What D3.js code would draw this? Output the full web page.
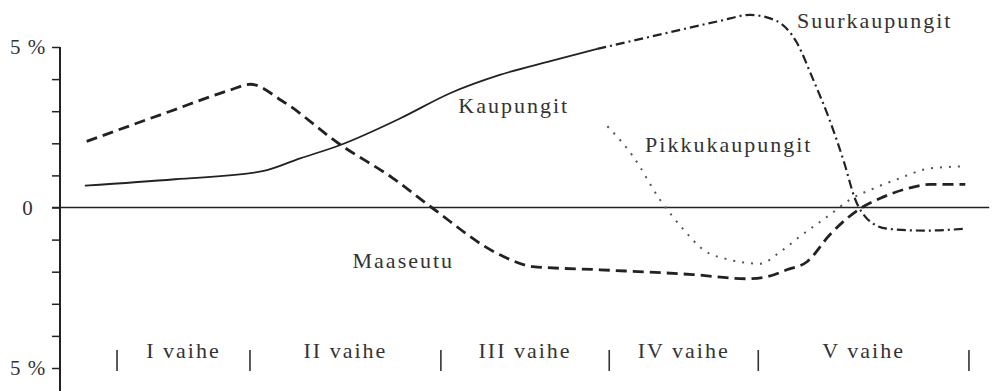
<!DOCTYPE html>
<html>
<head>
<meta charset="utf-8">
<script src="https://cdn.jsdelivr.net/npm/d3@7"></script>
<style>
    body{margin:0;background:#fff;}
    svg text{font-family:"Liberation Serif",serif;fill:#333;}
</style>
</head>
<body>
<div id="panChart"></div>
<script>
// Curves: t = position along the time axis (0..100), v = change in %
let kaupungit = [
    {t:2.7,v:0.68},{t:12.5,v:0.88},{t:22.0,v:1.13},{t:26.1,v:1.53},{t:30.4,v:1.94},
    {t:37.0,v:2.78},{t:42.4,v:3.56},{t:47.8,v:4.13},{t:53.3,v:4.56},{t:58.4,v:4.94}
];
let suurkaupungit = [
    {t:58.4,v:4.94},{t:66.0,v:5.44},{t:71.7,v:5.81},{t:75.0,v:6.0},{t:77.9,v:5.81},
    {t:80.1,v:5.13},{t:81.8,v:4.03},{t:83.7,v:2.69},{t:85.3,v:1.34},{t:86.4,v:0.28},
    {t:87.7,v:-0.34},{t:89.9,v:-0.66},{t:94.0,v:-0.72},{t:98.4,v:-0.66}
];
let maaseutu = [
    {t:2.9,v:2.06},{t:12.0,v:3.0},{t:18.5,v:3.66},{t:20.7,v:3.84},{t:24.2,v:3.31},
    {t:30.4,v:1.97},{t:36.2,v:0.91},{t:40.4,v:0},{t:47.8,v:-1.47},{t:51.4,v:-1.84},
    {t:58.7,v:-1.94},{t:68.8,v:-2.09},{t:74.7,v:-2.22},{t:76.8,v:-2.16},{t:79.0,v:-1.94},
    {t:81.2,v:-1.69},{t:83.7,v:-0.84},{t:87.0,v:-0.03},{t:89.1,v:0.28},{t:92.1,v:0.59},
    {t:94.6,v:0.72},{t:98.4,v:0.72}
];
let pikkukaupungit = [
    {t:59.5,v:2.53},{t:62.3,v:1.59},{t:65.2,v:0.25},{t:67.7,v:-0.66},{t:69.9,v:-1.31},
    {t:72.8,v:-1.63},{t:76.1,v:-1.75},{t:78.3,v:-1.38},{t:80.4,v:-0.91},{t:83.7,v:-0.22},
    {t:85.9,v:0.25},{t:88.4,v:0.59},{t:91.0,v:0.88},{t:94.6,v:1.22},{t:98.2,v:1.28}
];

// Phases
let phaseNames = ['I vaihe','II vaihe','III vaihe','IV vaihe','V vaihe'];
let phaseBounds = [6.2,20.65,41.4,59.7,75.9,98.8];

// Y ticks
let yTicks = [-5,-4,-3,-2,-1,0,1,2,3,4,5];
let yTickLabels = {'-5':'5 %','0':'0','5':'5 %'};

const width = 998, height = 391;

let svg = d3.select('#panChart').append('svg')
    .attr('width',width)
    .attr('height',height);

let x = d3.scaleLinear().domain([0,100]).range([60,980]);
let y = d3.scaleLinear().domain([-5,5]).range([368,47]);

// Y axis
let axY = svg.append('g')
    .attr('transform',`translate(${x(0)},0)`)
    .call(d3.axisLeft(y)
        .tickValues(yTicks)
        .tickSize(8)
        .tickSizeOuter(0)
        .tickFormat(d=>yTickLabels[d]||''));
axY.select('.domain').remove();
axY.selectAll('line').attr('stroke','#222').attr('stroke-width',1.5);
axY.selectAll('text')
    .attr('x',-32)
    .attr('text-anchor','middle')
    .style('font-size','21px')
    .style('letter-spacing','1px');
axY.append('line')
    .attr('x1',0).attr('x2',0)
    .attr('y1',y(5)).attr('y2',height)
    .attr('stroke','#222')
    .attr('stroke-width',2);

// zero line
svg.append('line')
    .attr('x1',x(0)-8).attr('x2',x(101))
    .attr('y1',y(0)).attr('y2',y(0))
    .attr('stroke','#222')
    .attr('stroke-width',1.6);

// Curves
let line = d3.line()
    .x(d=>x(d.t))
    .y(d=>y(d.v))
    .curve(d3.curveMonotoneX);

let series = [
    {data:kaupungit, dash:null, w:1.8, c:'#222'},
    {data:suurkaupungit, dash:'9,4,2,4', w:2.2, c:'#222'},
    {data:maaseutu, dash:'11,6', w:2.8, c:'#222'},
    {data:pikkukaupungit, dash:'2,7', w:2, c:'#555'}
];
svg.append('g').selectAll('path')
    .data(series).enter()
    .append('path')
    .attr('d',d=>line(d.data))
    .attr('fill','none')
    .attr('stroke',d=>d.c)
    .attr('stroke-width',d=>d.w)
    .attr('stroke-dasharray',d=>d.dash);

// Series labels
let lbl = [
    {name:'Kaupungit',t:43.3,v:2.94},
    {name:'Suurkaupungit',t:80.1,v:5.6},
    {name:'Pikkukaupungit',t:63.6,v:1.72},
    {name:'Maaseutu',t:31.8,v:-1.88}
];
svg.append('g').selectAll('text')
    .data(lbl).enter()
    .append('text')
    .attr('x',d=>x(d.t))
    .attr('y',d=>y(d.v))
    .style('font-size','22px')
    .style('letter-spacing','2px')
    .text(d=>d.name);

// Phase strip
let gPh = svg.append('g');
gPh.selectAll('line')
    .data(phaseBounds).enter()
    .append('line')
    .attr('x1',d=>x(d)).attr('x2',d=>x(d))
    .attr('y1',350).attr('y2',371)
    .attr('stroke','#333')
    .attr('stroke-width',1.6);
gPh.selectAll('text')
    .data(phaseNames).enter()
    .append('text')
    .attr('x',(d,i)=>x((phaseBounds[i]+phaseBounds[i+1])/2))
    .attr('y',358)
    .attr('text-anchor','middle')
    .style('font-size','22px')
    .style('letter-spacing','2px')
    .text(d=>d);
</script>
</body>
</html>
